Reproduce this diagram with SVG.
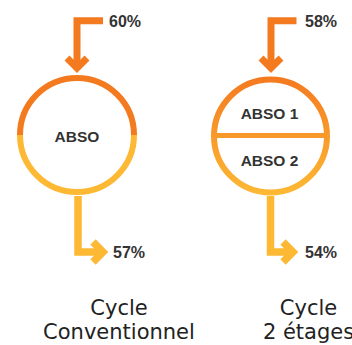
<svg xmlns="http://www.w3.org/2000/svg" width="352" height="345" viewBox="0 0 352 345">
  <defs>
    <linearGradient id="gradR" gradientUnits="userSpaceOnUse" x1="0" y1="77" x2="0" y2="195">
      <stop offset="0" stop-color="#F47A20"/>
      <stop offset="1" stop-color="#FDB934"/>
    </linearGradient>
  </defs>
  <style>
    .pct { font-family: "Liberation Sans", Arial, sans-serif; font-weight: bold; font-size: 16px; fill: #333333; }
    .abso { font-family: "Liberation Sans", Arial, sans-serif; font-weight: bold; font-size: 15.5px; fill: #333333; text-anchor: middle; }
    .cap { font-family: "DejaVu Sans", sans-serif; font-size: 21px; fill: #222222; text-anchor: middle; }
    .in { fill: none; stroke: #F47A20; stroke-width: 7; stroke-linejoin: miter; }
    .out { fill: none; stroke: #FDB934; stroke-width: 7.5; stroke-linejoin: miter; }
  </style>

  <g id="connectors">
    <path class="in" d="M103,20.7 H77 V68"/>
    <polyline class="in" points="67,58 77,68 87,58"/>
    <path class="out" d="M78,196 V252 H103"/>
    <polyline class="out" points="93,242 103,252 93,262"/>

    <path class="in" d="M296.5,20.7 H271 V68"/>
    <polyline class="in" points="261,58 271,68 281,58"/>
    <path class="out" d="M270.5,196 V252 H293"/>
    <polyline class="out" points="283,242 293,252 283,262"/>
  </g>

  <g id="absorber-conventionnel">
    <path d="M20,135 A57,57 0 0 1 134,135" fill="none" stroke="#F47A20" stroke-width="6"/>
    <path d="M20,135 A57,57 0 0 0 134,135" fill="none" stroke="#FDB934" stroke-width="6"/>
    <text class="abso" x="77" y="141.5">ABSO</text>
  </g>

  <g id="absorber-2-etages">
    <circle cx="270.5" cy="136" r="56.5" fill="none" stroke="url(#gradR)" stroke-width="6"/>
    <line x1="214" y1="135.5" x2="327" y2="135.5" stroke="url(#gradR)" stroke-width="5"/>
    <text class="abso" x="269.5" y="119">ABSO 1</text>
    <text class="abso" x="269.5" y="165.5">ABSO 2</text>
  </g>

  <g id="labels">
    <text class="pct" x="109" y="26.5">60%</text>
    <text class="pct" x="113" y="258">57%</text>
    <text class="pct" x="305" y="26.5">58%</text>
    <text class="pct" x="305" y="258">54%</text>
    <text class="cap" x="119" y="315">Cycle</text>
    <text class="cap" x="119" y="339">Conventionnel</text>
    <text class="cap" x="308.5" y="315">Cycle</text>
    <text class="cap" x="308.5" y="339">2 étages</text>
  </g>
</svg>
